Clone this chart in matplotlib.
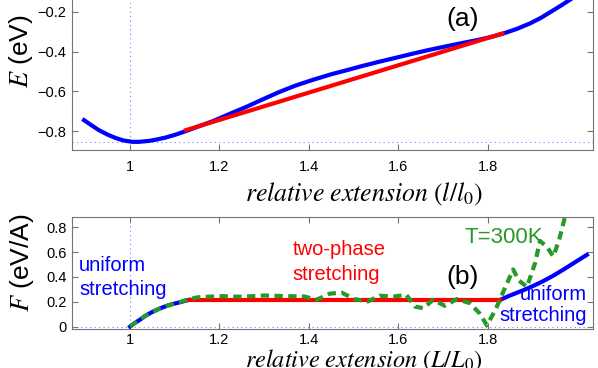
import matplotlib.pyplot as plt

plt.rcParams['font.family'] = ['Liberation Sans', 'DejaVu Sans']
plt.rcParams['mathtext.fontset'] = 'stix'

# energy curve, uniform stretching (blue)
e_x = [0.897, 0.91, 0.930, 0.95, 0.968, 0.985, 1.005, 1.02, 1.043, 1.06, 1.080, 1.10, 1.121,
       1.15, 1.185, 1.22, 1.260, 1.30, 1.334, 1.37, 1.409, 1.45, 1.484, 1.52, 1.559, 1.60,
       1.633, 1.67, 1.708, 1.745, 1.783, 1.81, 1.835, 1.865, 1.895, 1.92, 1.947, 1.965,
       1.985, 2.020]
e_val = [-0.745, -0.765, -0.795, -0.818, -0.835, -0.847, -0.854, -0.854, -0.849, -0.842,
         -0.832, -0.819, -0.803, -0.779, -0.750, -0.716, -0.678, -0.637, -0.603, -0.571,
         -0.542, -0.514, -0.494, -0.472, -0.450, -0.428, -0.410, -0.391, -0.373, -0.356,
         -0.339, -0.325, -0.309, -0.286, -0.258, -0.229, -0.192, -0.167, -0.138, -0.080]
# common tangent (red)
tan_x = [1.125, 1.833]
tan_e = [-0.795, -0.309]
e_min = -0.854

# force curves
f_left_x = [1.00, 1.01, 1.02, 1.035, 1.05, 1.065, 1.08, 1.095, 1.11, 1.12, 1.132]
f_left = [0.0, 0.027, 0.05, 0.088, 0.118, 0.143, 0.164, 0.181, 0.194, 0.204, 0.215]
f_right_x = [1.828, 1.85, 1.88, 1.90, 1.92, 1.945, 1.97, 1.995, 2.022]
f_right = [0.215, 0.25, 0.293, 0.324, 0.358, 0.406, 0.46, 0.517, 0.578]
plateau_x = [1.132, 1.828]
plateau_f = [0.215, 0.215]

# T=300K simulation (green dashed)
t_x = [1.00, 1.01, 1.02, 1.035, 1.05, 1.065, 1.08, 1.095, 1.11, 1.13, 1.15, 1.20, 1.25,
       1.30, 1.35, 1.39, 1.417, 1.446, 1.473, 1.502, 1.532, 1.558, 1.59, 1.618, 1.637,
       1.656, 1.678, 1.704, 1.731, 1.76, 1.783, 1.798, 1.817, 1.835, 1.857, 1.87, 1.888,
       1.906, 1.917, 1.932, 1.947, 1.96, 1.977, 1.99]
t_f = [0.0, 0.027, 0.05, 0.088, 0.118, 0.143, 0.164, 0.181, 0.196, 0.218, 0.235, 0.245,
       0.24, 0.25, 0.245, 0.242, 0.215, 0.264, 0.274, 0.221, 0.202, 0.248, 0.242, 0.256,
       0.161, 0.148, 0.215, 0.167, 0.221, 0.189, 0.102, 0.01, 0.13, 0.28, 0.46, 0.37,
       0.32, 0.51, 0.69, 0.645, 0.565, 0.70, 0.94, 1.1]

xticks = [1, 1.2, 1.4, 1.6, 1.8]
xticklabels = ['1', '1.2', '1.4', '1.6', '1.8']

fig = plt.figure(figsize=(5.98, 3.68), dpi=100)
ax1 = fig.add_axes([0.1204, 0.5924, 0.8707, 0.4834])
ax2 = fig.add_axes([0.1204, 0.106, 0.8707, 0.305])

dot = dict(color='#8080ff', lw=0.8, ls=(0, (1, 3)))

ax1.axvline(1, **dot)
ax1.axhline(e_min, **dot)
ax1.plot(e_x, e_val, color='#0000ff', lw=3)
ax1.plot(tan_x, tan_e, color='#ff0000', lw=3)
ax1.set_xlim(0.87, 2.035)
ax1.set_ylim(-0.895, 0.0)
ax1.set_yticks([-0.8, -0.6, -0.4, -0.2])
ax1.set_yticklabels(['\u22120.8', '\u22120.6', '\u22120.4', '\u22120.2'])
ax1.text(1.744, -0.238, '(a)', fontsize=19, ha='center', va='center')

ax2.axvline(1, **dot)
ax2.axhline(0, **dot)
ax2.plot(f_left_x, f_left, color='#0000ff', lw=3)
ax2.plot(f_right_x, f_right, color='#0000ff', lw=3)
ax2.plot(plateau_x, plateau_f, color='#ff0000', lw=3)
ax2.plot(t_x, t_f, color='#269926', lw=3, dashes=(2, 1.3))
ax2.set_xlim(0.87, 2.035)
ax2.set_ylim(-0.02, 0.885)
ax2.set_yticks([0, 0.2, 0.4, 0.6, 0.8])
ax2.set_yticklabels(['0', '0.2', '0.4', '0.6', '0.8'])

ax2.text(0.886, 0.444, 'uniform', color='#0000ff', fontsize=14.5, va='baseline')
ax2.text(0.886, 0.256, 'stretching', color='#0000ff', fontsize=14.5, va='baseline')
ax2.text(1.363, 0.578, 'two-phase', color='#ff0000', fontsize=14.5, va='baseline')
ax2.text(1.363, 0.377, 'stretching', color='#ff0000', fontsize=14.5, va='baseline')
ax2.text(1.749, 0.675, 'T=300K', color='#269926', fontsize=16, va='baseline')
ax2.text(1.744, 0.397, '(b)', fontsize=19, ha='center', va='center')
ax2.text(2.022, 0.215, 'uniform', color='#0000ff', fontsize=14.5, va='baseline', ha='right')
ax2.text(2.022, 0.046, 'stretching', color='#0000ff', fontsize=14.5, va='baseline', ha='right')

for ax in (ax1, ax2):
    ax.set_xticks(xticks)
    ax.set_xticklabels(xticklabels)
    for s in ax.spines.values():
        s.set_color('0.45')
    ax.tick_params(direction='in', length=4, width=0.8, color='0.45', labelsize=10.5,
                   top=True, right=True)
    ax.tick_params(axis='y', pad=4)
ax1.tick_params(axis='x', pad=7)
ax2.tick_params(axis='x', pad=3)

fig.text(21 / 598, 0.861, r'$E$ (eV)', fontsize=19, rotation=90, ha='center', va='center')
fig.text(22 / 598, 0.287, r'$F$ (eV/A)', fontsize=19, rotation=90, ha='center', va='center')
fig.text(245 / 598, 0.4538, r'$relative\ extension\ (l/l_0)$', fontsize=18.5, ha='left',
         va='baseline')
fig.text(245 / 598, 0.004, r'$relative\ extension\ (L/L_0)$', fontsize=17.5, ha='left',
         va='baseline')

fig.savefig('out.png', dpi=100)
